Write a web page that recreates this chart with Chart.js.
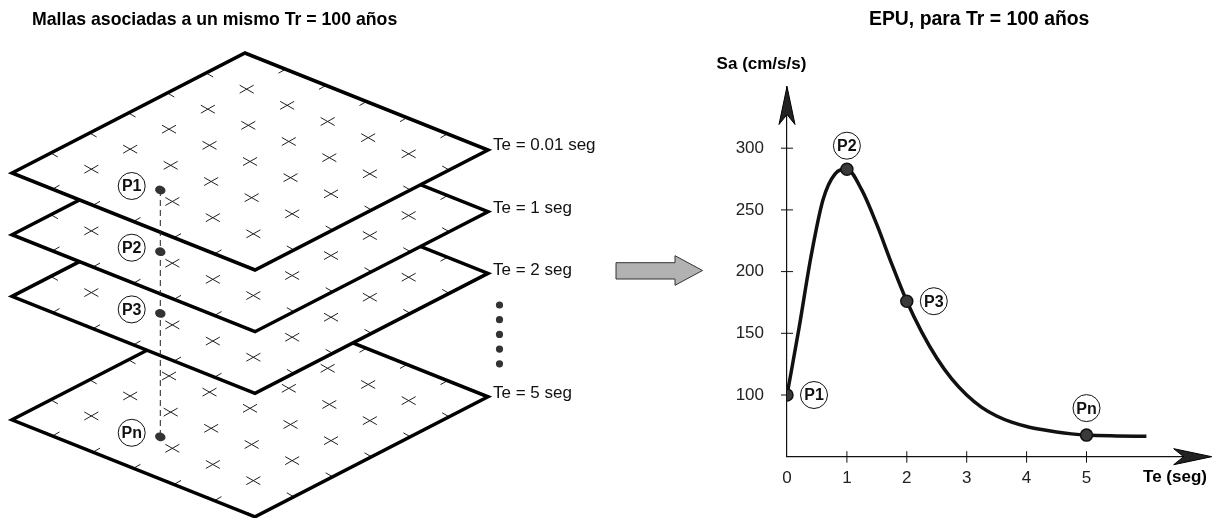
<!DOCTYPE html>
<html>
<head>
<meta charset="utf-8">
<script src="https://cdn.jsdelivr.net/npm/chart.js@4.4.0/dist/chart.umd.min.js"></script>
<style>
  html, body { margin: 0; padding: 0; background: #fff; }
  #chart { display: block; }
</style>
</head>
<body>
<canvas id="chart" width="1212" height="518"></canvas>
<script>
// EPU curve, Sa (cm/s/s) against Te (seg)
const teValues = [0, 0.2, 0.4, 0.6, 0.8, 1.0, 1.25, 1.5, 1.75, 2.0, 2.25, 2.5, 2.75, 3.0, 3.25, 3.5, 3.75, 4.0, 4.25, 4.5, 4.75, 5.0, 5.5, 6.0]
const saValues = [100, 154, 212, 258, 279, 283, 266, 238, 206, 176, 151, 130, 113, 100, 90, 83, 78, 74.5, 72, 70, 68.5, 67.5, 66.8, 66.5]

const pointTe = [0, 1, 2, 5]
const pointSa = [100, 283, 176, 67.5]
const pointLabels = ['P1', 'P2', 'P3', 'Pn']

const xTicks = [1, 2, 3, 4, 5]
const xLabels = [0, 1, 2, 3, 4, 5]
const yTicks = [100, 150, 200, 250, 300]

const meshLabels = ['Te = 0.01 seg', 'Te = 1 seg', 'Te = 2 seg', 'Te = 5 seg']

const FONT = "'Liberation Sans', Arial, sans-serif"

// geometry of the left sketch (one mesh, shifted down for each period)
const L = { x: 12, y: 173 }, T = { x: 245, y: 53 }, B = { x: 255, y: 270 }
const meshShift = [0, 61.7, 123.4, 246.8]
const at = (s, t, dy) => ({
  x: L.x + s * (T.x - L.x) + t * (B.x - L.x),
  y: L.y + s * (T.y - L.y) + t * (B.y - L.y) + dy
})

const meshPath = (ctx, dy) => {
  const c = [at(0, 0, dy), at(1, 0, dy), at(1, 1, dy), at(0, 1, dy)]
  ctx.beginPath()
  c.forEach((p, i) => i ? ctx.lineTo(p.x, p.y) : ctx.moveTo(p.x, p.y))
  ctx.closePath()
}

const drawMesh = (ctx, dy) => {
  meshPath(ctx, dy)
  ctx.fillStyle = '#fff'
  ctx.fill()
  ctx.save()
  ctx.clip()
  ctx.strokeStyle = '#222'
  ctx.lineWidth = 1
  for (let i = 0; i <= 6; i++) {
    for (let j = 0; j <= 6; j++) {
      const p = at(i / 6, j / 6, dy)
      ctx.beginPath()
      ctx.moveTo(p.x - 7, p.y - 4)
      ctx.lineTo(p.x + 7, p.y + 4)
      ctx.moveTo(p.x - 7, p.y + 4)
      ctx.lineTo(p.x + 7, p.y - 4)
      ctx.stroke()
    }
  }
  ctx.restore()
  meshPath(ctx, dy)
  ctx.lineWidth = 3.5
  ctx.lineJoin = 'miter'
  ctx.strokeStyle = '#000'
  ctx.stroke()
}

// bold title sized so it runs from x0 to x1
const fitTitle = (ctx, text, x0, x1, y) => {
  ctx.font = `bold 18px ${FONT}`
  const size = 18 * (x1 - x0) / ctx.measureText(text).width
  ctx.font = `bold ${size.toFixed(1)}px ${FONT}`
  ctx.fillText(text, x0, y)
}

const labelCircle = (ctx, x, y, text) => {
  ctx.beginPath()
  ctx.arc(x, y, 13.5, 0, Math.PI * 2)
  ctx.fillStyle = '#fff'
  ctx.fill()
  ctx.lineWidth = 1
  ctx.strokeStyle = '#111'
  ctx.stroke()
  ctx.fillStyle = '#111'
  ctx.font = `bold 16px ${FONT}`
  ctx.textAlign = 'center'
  ctx.textBaseline = 'middle'
  ctx.fillText(text, x, y + 1)
}

const arrowHead = (ctx, tx, ty, dx, dy) => {
  // dx, dy: unit direction the arrow points to
  const px = -dy, py = dx
  ctx.beginPath()
  ctx.moveTo(tx, ty)
  ctx.lineTo(tx - dx * 38 + px * 8, ty - dy * 38 + py * 8)
  ctx.lineTo(tx - dx * 28, ty - dy * 28)
  ctx.lineTo(tx - dx * 38 - px * 8, ty - dy * 38 - py * 8)
  ctx.closePath()
  ctx.fillStyle = '#222'
  ctx.fill()
  ctx.lineWidth = 1
  ctx.strokeStyle = '#000'
  ctx.stroke()
}

const sketchPlugin = {
  id: 'sketch',
  beforeDraw(chart) {
    const ctx = chart.ctx
    ctx.save()
    ctx.fillStyle = '#fff'
    ctx.fillRect(0, 0, chart.width, chart.height)

    // titles
    ctx.fillStyle = '#000'
    ctx.textAlign = 'left'
    ctx.textBaseline = 'middle'
    fitTitle(ctx, 'Mallas asociadas a un mismo Tr = 100 años', 32, 397, 20)
    fitTitle(ctx, 'EPU, para Tr = 100 años', 869, 1090, 20)

    // meshes, lowest first so the upper ones cover them
    for (let k = meshShift.length - 1; k >= 0; k--) drawMesh(ctx, meshShift[k])

    ctx.font = `17px ${FONT}`
    ctx.fillStyle = '#111'
    meshLabels.forEach((txt, k) => {
      const r = at(1, 1, meshShift[k])
      ctx.fillText(txt, r.x + 5, r.y - (k === 0 ? 5 : 3))
    })

    // dots between 2 seg and 5 seg
    ctx.fillStyle = '#333'
    for (let k = 0; k < 5; k++) {
      ctx.beginPath()
      ctx.arc(499.5, 305 + k * 14.7, 3.6, 0, Math.PI * 2)
      ctx.fill()
    }

    // dashed line linking the same site on every mesh
    ctx.strokeStyle = '#222'
    ctx.lineWidth = 1
    ctx.setLineDash([6, 4])
    ctx.beginPath()
    ctx.moveTo(160.3, 190)
    ctx.lineTo(160.3, 190 + meshShift[3])
    ctx.stroke()
    ctx.setLineDash([])

    pointLabels.forEach((lab, k) => {
      const y = 190 + meshShift[k]
      ctx.beginPath()
      ctx.ellipse(160.3, y, 5.3, 4.3, 0.3, 0, Math.PI * 2)
      ctx.fillStyle = '#333'
      ctx.fill()
      labelCircle(ctx, 131.7, y - 4, lab)
    })

    // big grey arrow
    ctx.beginPath()
    ctx.moveTo(616, 262.7)
    ctx.lineTo(675, 262.7)
    ctx.lineTo(675, 255.7)
    ctx.lineTo(702.5, 270.5)
    ctx.lineTo(675, 285.3)
    ctx.lineTo(675, 279)
    ctx.lineTo(616, 279)
    ctx.closePath()
    ctx.fillStyle = '#b2b2b2'
    ctx.fill()
    ctx.strokeStyle = '#333'
    ctx.stroke()
    ctx.restore()
  },
  beforeDatasetsDraw(chart) {
    const ctx = chart.ctx
    const xs = chart.scales.x, ys = chart.scales.y
    const x0 = xs.getPixelForValue(0), y0 = ys.getPixelForValue(50)
    ctx.save()
    ctx.strokeStyle = '#111'
    ctx.lineWidth = 1
    ctx.beginPath()
    xTicks.forEach(v => {
      const px = xs.getPixelForValue(v)
      ctx.moveTo(px, y0 - 5.5)
      ctx.lineTo(px, y0 + 6)
    })
    yTicks.forEach(v => {
      const py = ys.getPixelForValue(v)
      ctx.moveTo(x0 - 6, py)
      ctx.lineTo(x0 + 6, py)
    })
    ctx.stroke()

    arrowHead(ctx, x0, ys.getPixelForValue(350), 0, -1)
    arrowHead(ctx, chart.width - 0.3, y0, 1, 0)

    ctx.fillStyle = '#000'
    ctx.font = `bold 17px ${FONT}`
    ctx.textAlign = 'center'
    ctx.textBaseline = 'middle'
    ctx.fillText('Sa (cm/s/s)', 761.5, 64)
    ctx.fillText('Te (seg)', 1175, 477)
    ctx.restore()
  },
  afterDatasetsDraw(chart) {
    const ctx = chart.ctx
    const xs = chart.scales.x, ys = chart.scales.y
    // where each label sits around its point
    const offsets = [[27, 0], [0, -23.5], [27, 0], [0, -27]]
    ctx.save()
    pointLabels.forEach((lab, k) => {
      const px = xs.getPixelForValue(pointTe[k])
      const py = ys.getPixelForValue(pointSa[k])
      labelCircle(ctx, px + offsets[k][0], py + offsets[k][1], lab)
    })
    ctx.restore()
  }
}

new Chart(document.getElementById('chart'), {
  type: 'scatter',
  data: {
    datasets: [
      {
        label: 'EPU',
        data: teValues.map((te, i) => ({ x: te, y: saValues[i] })),
        showLine: true,
        borderColor: '#111',
        borderWidth: 3.5,
        pointRadius: 0,
        cubicInterpolationMode: 'monotone',
        order: 2
      },
      {
        label: 'Puntos',
        data: pointTe.map((te, i) => ({ x: te, y: pointSa[i] })),
        pointRadius: 6,
        backgroundColor: '#3a3a3a',
        borderColor: '#111',
        borderWidth: 1.5,
        order: 1
      }
    ]
  },
  options: {
    responsive: false,
    animation: false,
    events: [],
    layout: { padding: { left: 717, right: 0, top: 86.5, bottom: 21.3 } },
    plugins: {
      legend: { display: false },
      tooltip: { enabled: false }
    },
    scales: {
      x: {
        type: 'linear',
        min: 0,
        max: 6.97,
        afterBuildTicks: s => { s.ticks = xLabels.map(v => ({ value: v })) },
        afterFit: s => { s.height = 40 },
        grid: { display: false, drawTicks: false },
        border: { display: true, color: '#111', width: 1.2 },
        ticks: { color: '#222', padding: 11, font: { family: FONT, size: 17 } }
      },
      y: {
        type: 'linear',
        min: 50,
        max: 350,
        afterBuildTicks: s => { s.ticks = yTicks.map(v => ({ value: v })) },
        afterFit: s => { s.width = 70 },
        grid: { display: false, drawTicks: false },
        border: { display: true, color: '#111', width: 1.2 },
        ticks: { color: '#222', padding: 23, font: { family: FONT, size: 17 } }
      }
    }
  },
  plugins: [sketchPlugin]
})
</script>
</body>
</html>
